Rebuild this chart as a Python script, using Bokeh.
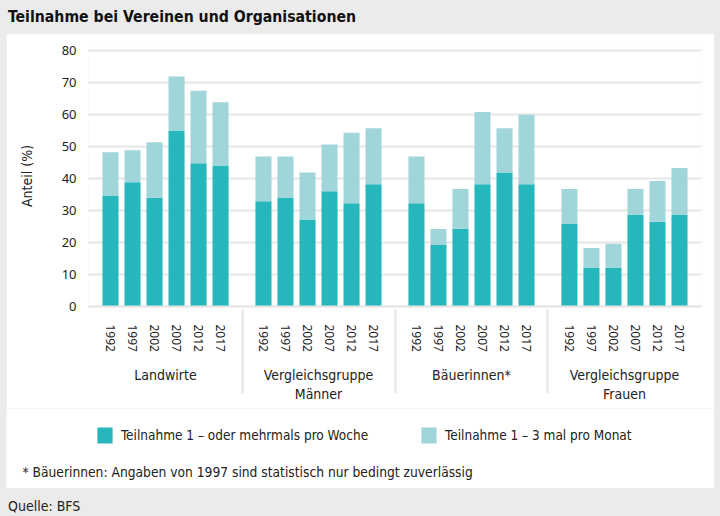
from bokeh.plotting import figure
from bokeh.models import (FactorRange, Legend, LegendItem, Label, Div, Spacer,
                          Range1d, SingleIntervalTicker, ColumnDataSource)
from bokeh.layouts import column, row
from bokeh.embed import file_html
from bokeh.resources import INLINE

groups = ["Landwirte", "Vergleichsgruppe\nMänner", "Bäuerinnen*", "Vergleichsgruppe\nFrauen"]
years = ["1992", "1997", "2002", "2007", "2012", "2017"]

# Teilnahme 1 – oder mehrmals pro Woche (dark)
weekly_landwirte = [34.5, 38.8, 34.0, 55.0, 44.8, 44.1]
weekly_maenner = [32.9, 33.9, 27.2, 36.0, 32.3, 38.2]
weekly_baeuerinnen = [32.3, 19.2, 24.3, 38.2, 41.9, 38.2]
weekly_frauen = [25.8, 12.0, 12.0, 28.6, 26.5, 28.6]

# Teilnahme 1 – 3 mal pro Monat (light)
monthly_landwirte = [13.7, 10.0, 17.3, 16.9, 22.6, 19.7]
monthly_maenner = [14.0, 13.0, 14.7, 14.6, 22.0, 17.5]
monthly_baeuerinnen = [14.6, 5.0, 12.4, 22.6, 13.8, 21.7]
monthly_frauen = [10.9, 6.3, 7.6, 8.1, 12.7, 14.7]

series_labels = ["Teilnahme 1 – oder mehrmals pro Woche", "Teilnahme 1 – 3 mal pro Monat"]
title_text = "Teilnahme bei Vereinen und Organisationen"
footnote_text = "* Bäuerinnen: Angaben von 1997 sind statistisch nur bedingt zuverlässig"
source_text = "Quelle: BFS"
y_label = "Anteil (%)"

weekly = weekly_landwirte + weekly_maenner + weekly_baeuerinnen + weekly_frauen
monthly = monthly_landwirte + monthly_maenner + monthly_baeuerinnen + monthly_frauen
factors = [(g, y) for g in groups for y in years]

source = ColumnDataSource(dict(x=factors, weekly=weekly, monthly=monthly))

DARK = "#26b7bc"
LIGHT = "#a0d5d9"
GREY_BG = "#ebebeb"
COND = "DejaVu Sans Condensed, Roboto Condensed, Roboto"
NUM = "Noto Sans"
TXT = "#222222"

# ---------------- main chart ----------------
p = figure(width=708, height=375,
           x_range=FactorRange(*factors, group_padding=0.95, range_padding=0.0372),
           y_range=Range1d(0, 81.56),
           output_backend="svg", toolbar_location=None,
           min_border_left=82, min_border_right=13, min_border_top=12, min_border_bottom=102)

p.border_fill_color = "white"
p.background_fill_color = "white"
p.outline_line_color = None

rs = p.vbar_stack(["weekly", "monthly"], x="x", width=0.73, source=source,
                  color=[DARK, LIGHT], line_color=None)

p.yaxis.ticker = SingleIntervalTicker(interval=10)
p.yaxis.axis_line_color = None
p.yaxis.major_tick_line_color = None
p.yaxis.minor_tick_line_color = None
p.yaxis.major_label_text_font = NUM
p.yaxis.major_label_text_font_size = "13px"
p.yaxis.major_label_text_color = TXT
p.yaxis.major_label_standoff = 6
p.yaxis.axis_label = y_label
p.yaxis.axis_label_text_font = COND
p.yaxis.axis_label_text_font_size = "14px"
p.yaxis.axis_label_text_font_style = "normal"
p.yaxis.axis_label_text_color = TXT
p.yaxis.axis_label_standoff = 24

p.xaxis.axis_line_color = "#e3e3e3"
p.xaxis.axis_line_width = 2
p.xaxis.major_tick_line_color = None
p.xaxis.minor_tick_line_color = None
p.xaxis.major_label_orientation = "vertical"
p.xaxis.major_label_text_font = NUM
p.xaxis.major_label_text_font_size = "12px"
p.xaxis.major_label_text_color = TXT
p.xaxis.major_label_standoff = 12
p.xaxis.group_label_orientation = "horizontal"
p.xaxis.group_text_font = COND
p.xaxis.group_text_font_size = "14px"
p.xaxis.group_text_font_style = "normal"
p.xaxis.group_text_color = TXT
p.xaxis.separator_line_color = "#e3e3e3"
p.xaxis.separator_line_width = 2

p.xgrid.grid_line_color = None
p.ygrid.grid_line_color = "#e6e6e6"
p.ygrid.grid_line_width = 2

# ---------------- legend + footnote strip ----------------
q = figure(width=708, height=80, x_range=p.x_range, y_range=Range1d(0, 1),
           output_backend="svg", toolbar_location=None,
           x_axis_location=None, y_axis_location=None,
           min_border=0, min_border_left=0, min_border_right=0,
           min_border_top=0, min_border_bottom=0)
q.border_fill_color = "white"
q.background_fill_color = "white"
q.outline_line_color = None
q.grid.grid_line_color = None
q.grid.visible = False

# legend keys: same series as the chart, not drawn in this strip
key_renderers = q.vbar_stack(["weekly", "monthly"], x="x", width=0.73, source=source,
                             color=[DARK, LIGHT], line_color=None)
for r in key_renderers:
    r.visible = False

legend = Legend(items=[LegendItem(label=lab, renderers=[r])
                       for r, lab in zip(key_renderers, series_labels)],
                orientation="horizontal", location=(89, 43),
                glyph_width=19, glyph_height=20, label_standoff=7, spacing=51,
                label_text_font=COND, label_text_font_size="13.5px",
                label_text_color=TXT, label_height=20,
                padding=0, margin=0, border_line_color=None,
                background_fill_alpha=0, inactive_fill_alpha=0)
q.add_layout(legend)

q.add_layout(Label(x=16, y=17, x_units="screen", y_units="screen", text=footnote_text,
                   text_font=COND, text_font_size="13.7px", text_baseline="middle",
                   text_color=TXT))

title_div = Div(text=f'<div style="font-family: DejaVu Sans Condensed, Roboto Condensed, Roboto; '
                     f'font-size: 15.7px; font-weight: bold; color: #111; padding-left: 8px; '
                     f'line-height: 33px; white-space: nowrap;">{title_text}</div>',
                width=720, height=33, margin=0)
source_div = Div(text=f'<div style="font-family: DejaVu Sans Condensed, Roboto Condensed, Roboto; '
                      f'font-size: 14px; color: #222; padding-left: 8px; padding-top: 8px; '
                      f'line-height: 20px; white-space: nowrap;">{source_text}</div>',
                 width=720, height=28, margin=0)

layout = column(title_div,
                row(Spacer(width=6, height=375), p, Spacer(width=6, height=375), spacing=0),
                row(Spacer(width=6, height=80), q, Spacer(width=6, height=80), spacing=0),
                source_div,
                spacing=0, width=720, height=516,
                styles={"background-color": GREY_BG})

open("out.html", "w").write(file_html(layout, INLINE))
